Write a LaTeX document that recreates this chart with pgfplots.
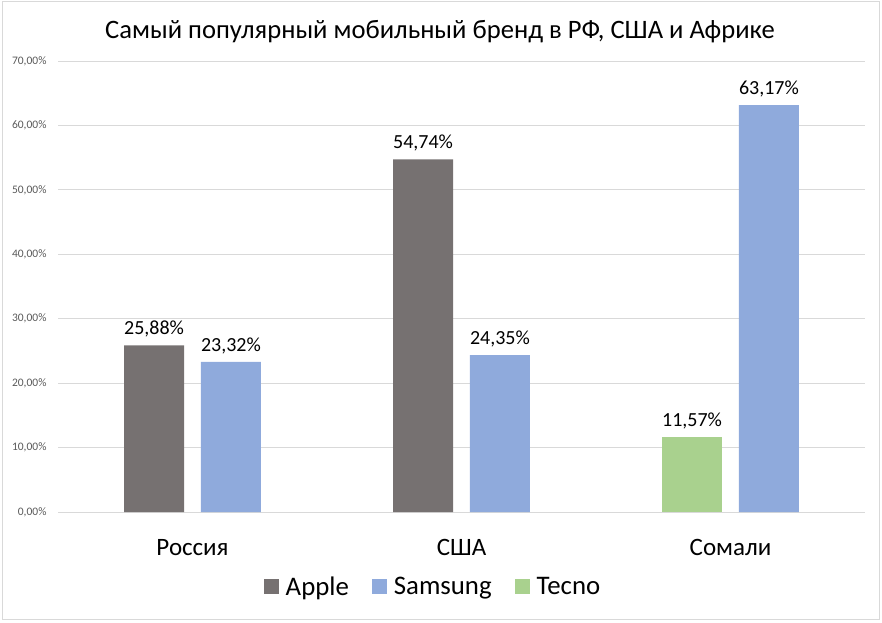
\documentclass[border=0pt]{standalone}
\usepackage{fontspec}
\setmainfont{Carlito}
\usepackage{pgfplots}
\pgfplotsset{compat=1.18}
\definecolor{cApple}{HTML}{767171}
\definecolor{cSamsung}{HTML}{8FAADC}
\definecolor{cTecno}{HTML}{A9D18E}
\definecolor{cGrid}{HTML}{D9D9D9}
\definecolor{cTick}{HTML}{595959}
\begin{document}
\begin{tikzpicture}[x=1pt,y=1pt]
\useasboundingbox (0,0) rectangle (882,622);
\draw[color=cGrid, line width=1pt] (2,2.5) rectangle (879.5,620);
\node[font=\fontsize{26.6}{32}\selectfont] at (440,590) {Самый популярный мобильный бренд в РФ, США и Африке};
\begin{axis}[
  at={(58pt,110pt)}, anchor=south west,
  scale only axis, width=807pt, height=451pt,
  /pgf/number format/assume math mode=true,
  xmin=-0.5, xmax=2.5, ymin=0, ymax=70,
  xtick={0,1,2}, xticklabels={Россия, США, Сомали},
  xticklabel style={font=\fontsize{25}{30}\selectfont, yshift=-24pt},
  ytick={0,10,...,70},
  yticklabel={\pgfmathprintnumber[fixed,fixed zerofill,precision=2,use comma]{\tick}\%},
  yticklabel style={font=\fontsize{11.5}{14}\selectfont, text=cTick, xshift=-8pt},
  ymajorgrids, grid style={cGrid, line width=0.8pt},
  axis line style={draw=none},
  axis x line*=bottom,
  x axis line style={draw=cGrid, line width=0.8pt},
  major tick length=0pt,
  ybar, bar width=0.223, bar shift=0pt,
  every axis plot/.append style={draw=none},
  nodes near coords={\pgfmathprintnumber[fixed,fixed zerofill,precision=2,use comma]{\pgfplotspointmeta}\%},
  every node near coord/.append style={font=\fontsize{20}{24}\selectfont, black, inner sep=0pt, yshift=8pt},
  legend columns=3,
  legend style={at={(0.5,-0.166)}, anchor=center, draw=none, font=\fontsize{26.8}{30}\selectfont, nodes={inner xsep=1pt}, xshift=-29pt},
  /tikz/every odd column/.append style={column sep=6pt},
  /tikz/every even column/.append style={column sep=22pt},
  legend image code/.code={\fill (0pt,-7pt) rectangle (15pt,8pt);},
]
\addplot[fill=cApple] coordinates {(-0.143,25.88) (0.857,54.74)};
\addlegendentry{Apple}
\addplot[fill=cSamsung] coordinates {(0.143,23.32) (1.143,24.35) (2.143,63.17)};
\addlegendentry{Samsung}
\addplot[fill=cTecno] coordinates {(1.857,11.57)};
\addlegendentry{Tecno}
\end{axis}
\end{tikzpicture}
\end{document}
